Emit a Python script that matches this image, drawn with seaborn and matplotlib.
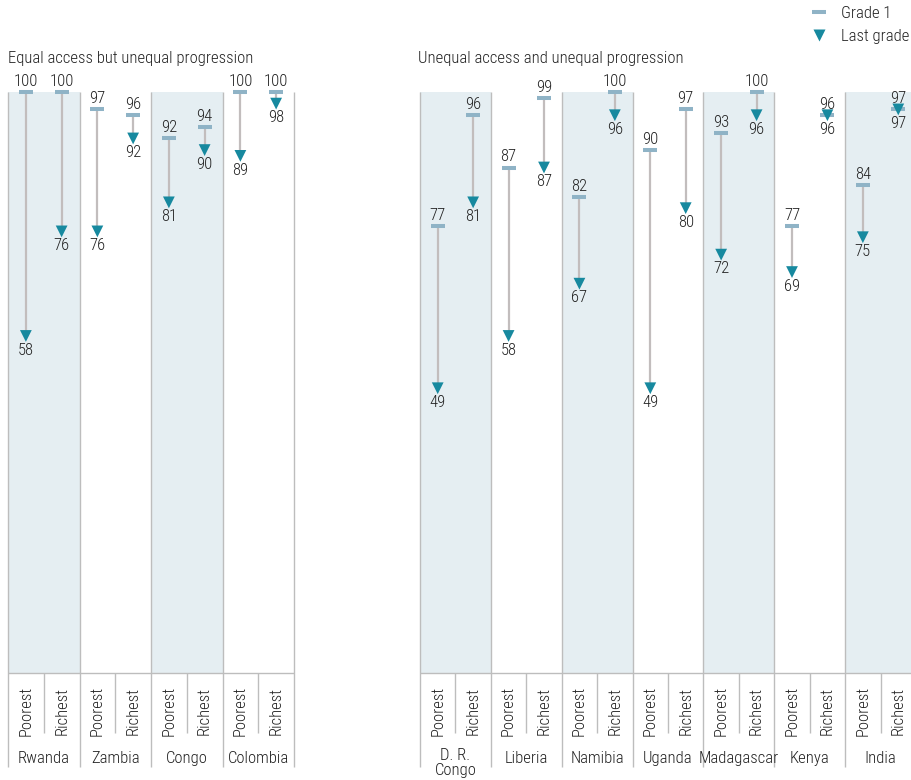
import matplotlib
matplotlib.use("Agg")
import matplotlib.pyplot as plt
from matplotlib.lines import Line2D
import seaborn as sns
import pandas as pd
import numpy as np

sns.set_theme(style="white")
plt.rcParams['font.family'] = ['Roboto Condensed', 'Archivo Narrow', 'DejaVu Sans']
plt.rcParams['font.weight'] = 'light'

# ---- data ----
left_title = "Equal access but unequal progression"
left_countries = ["Rwanda", "Zambia", "Congo", "Colombia"]
left_grade1_poorest = [100, 97, 92, 100]
left_last_poorest = [58, 76, 81, 89]
left_grade1_richest = [100, 96, 94, 100]
left_last_richest = [76, 92, 90, 98]

right_title = "Unequal access and unequal progression"
right_countries = ["D. R.\nCongo", "Liberia", "Namibia", "Uganda", "Madagascar", "Kenya", "India"]
right_grade1_poorest = [77, 87, 82, 90, 93, 77, 84]
right_last_poorest = [49, 58, 67, 49, 72, 69, 75]
right_grade1_richest = [96, 99, 100, 97, 100, 96, 97]
right_last_richest = [81, 87, 96, 80, 96, 96, 97]

groups = ["Poorest", "Richest"]
legend_labels = ["Grade 1", "Last grade"]

# ---- style ----
SHADE = "#e5eef2"
SEP = "#bdbdbd"
CONN = "#c2bdbd"
DASH = "#8fb3c6"
TRI = "#17899f"
TXT = "#222222"
FS = 12

W, H = 911, 780
fig = plt.figure(figsize=(W / 100, H / 100), dpi=100)

YTOP = 100
YBOT = -16.2
top_px, bot_px = 92, 767


def make_axes(x0, x1):
    return fig.add_axes([x0 / W, 1 - bot_px / H, (x1 - x0) / W, (bot_px - top_px) / H])


def build_df(countries, g1p, lp, g1r, lr):
    rows = []
    for i, c in enumerate(countries):
        rows.append(dict(country=c, group="Poorest", pos=2 * i, grade1=g1p[i], last=lp[i]))
        rows.append(dict(country=c, group="Richest", pos=2 * i + 1, grade1=g1r[i], last=lr[i]))
    return pd.DataFrame(rows)


def draw_panel(ax, df, countries, title, title_x):
    n = len(countries)
    ax.set_xlim(-0.5, 2 * n - 0.5)
    ax.set_ylim(YBOT, YTOP)
    ax.axis("off")
    for i in range(n):
        if i % 2 == 0:
            ax.bar(2 * i + 0.5, 100, width=2, bottom=0, color=SHADE, zorder=0, linewidth=0)
    for i in range(n + 1):
        ax.plot([2 * i - 0.5, 2 * i - 0.5], [YBOT, YTOP], color=SEP, lw=1, zorder=1,
                clip_on=False, solid_capstyle="butt")
    for i in range(n):
        ax.plot([2 * i + 0.5, 2 * i + 0.5], [0, -10.3], color=SEP, lw=1, zorder=1,
                solid_capstyle="butt")
    ax.plot([-0.5, 2 * n - 0.5], [0, 0], color=SEP, lw=1, zorder=1)
    ax.vlines(df["pos"], df["last"], df["grade1"], color=CONN, lw=1.6, zorder=2)
    sns.scatterplot(data=df, x="pos", y="grade1", marker="_", s=90, color=DASH,
                    linewidth=2.9, ax=ax, zorder=3, legend=False, clip_on=False)
    sns.scatterplot(data=df, x="pos", y="last", marker="v", s=72, color=TRI,
                    edgecolor="none", linewidth=0, ax=ax, zorder=4, legend=False, clip_on=False)
    ax.set_xlabel("")
    ax.set_ylabel("")
    for _, r in df.iterrows():
        ax.annotate(f"{r['grade1']:.0f}", (r["pos"], r["grade1"]), xytext=(0, 7.6),
                    textcoords="offset points", ha="center", va="center", fontsize=FS,
                    color=TXT, annotation_clip=False)
        ax.annotate(f"{r['last']:.0f}", (r["pos"], r["last"]), xytext=(0, -10.2),
                    textcoords="offset points", ha="center", va="center", fontsize=FS,
                    color=TXT, annotation_clip=False)
        ax.text(r["pos"], -6.5, r["group"], rotation=90, ha="center", va="center",
                fontsize=FS, color=TXT)
    for i, c in enumerate(countries):
        ax.text(2 * i + 0.5, -14.8 if "\n" not in c else -15.5, c, ha="center", va="center",
                fontsize=FS, color=TXT, linespacing=0.95, clip_on=False)
    fig.text(title_x / W, 1 - 63 / H, title, ha="left", va="baseline", fontsize=FS, color=TXT)


axL = make_axes(8, 294)
axR = make_axes(420, 916)
dfL = build_df(left_countries, left_grade1_poorest, left_last_poorest,
               left_grade1_richest, left_last_richest)
dfR = build_df(right_countries, right_grade1_poorest, right_last_poorest,
               right_grade1_richest, right_last_richest)
draw_panel(axL, dfL, left_countries, left_title, 8)
draw_panel(axR, dfR, right_countries, right_title, 418)

handles = [
    Line2D([], [], marker="_", ls="none", color=DASH, markersize=9.5, mew=2.9),
    Line2D([], [], marker="v", ls="none", color=TRI, markersize=8.5, mec="none"),
]
fig.legend(handles, legend_labels, loc="upper right", bbox_to_anchor=(1.0, 1 - 4 / H),
           frameon=False, fontsize=FS, handlelength=1.0, handletextpad=0.8,
           labelspacing=0.5, borderpad=0.1, borderaxespad=0.0, labelcolor=TXT)

fig.savefig("out.png", dpi=100)
